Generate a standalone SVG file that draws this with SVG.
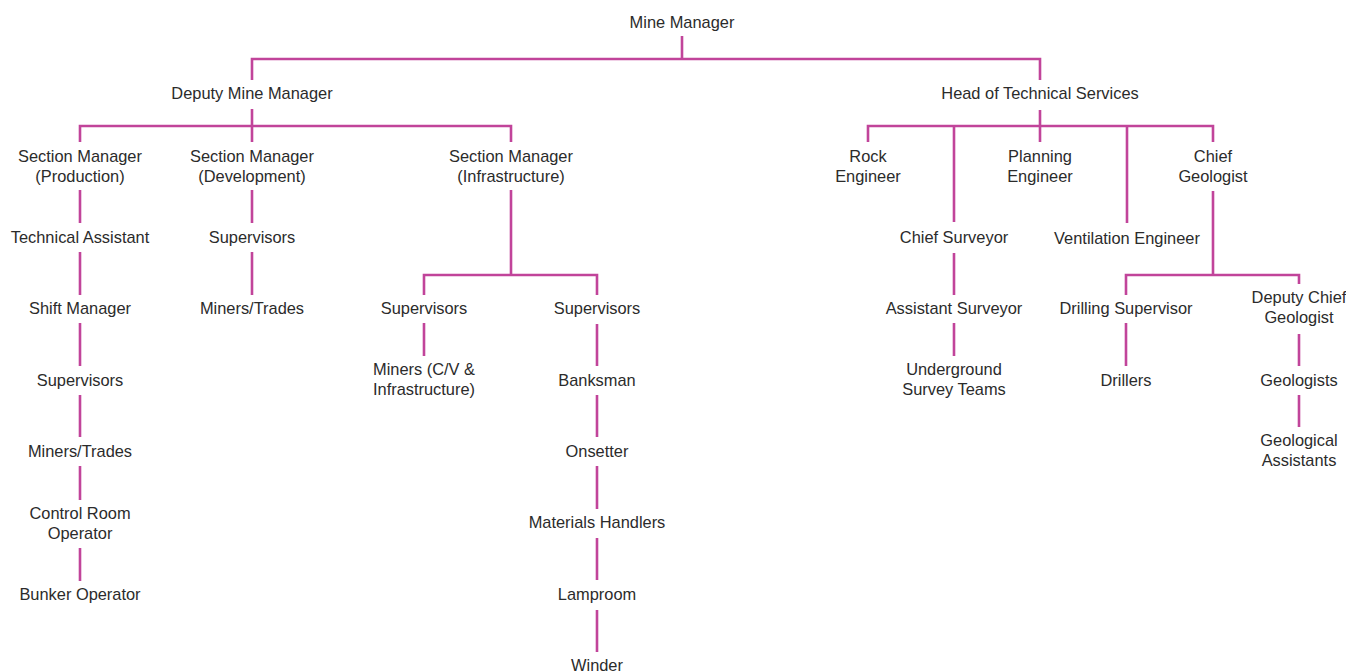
<svg xmlns="http://www.w3.org/2000/svg" width="1346" height="672" viewBox="0 0 1346 672">
<style>
text{font-family:"Liberation Sans",Arial,sans-serif;font-size:16.4px;fill:#2b2b2b;text-anchor:middle}
.c path{fill:none;stroke:#c1449a;stroke-width:2.6}
</style>
<rect width="1346" height="672" fill="#fff"/>
<g class="c" id="connectors">
<path d="M682 36V59M252 80V59H1040V80"/>
<path d="M252 109V126M80 142V126H511V142M252 126V142"/>
<path d="M80 190V223M80 252V295M80 323V366M80 395V437M80 466V500M80 548V581"/>
<path d="M252 190V223M252 252V295"/>
<path d="M511 190V275M424 295V275H597V295"/>
<path d="M424 323V356M597 324V366M597 395V437M597 466V509M597 538V580M597 610V652"/>
<path d="M1040 110V126M868 142V126H1213V142M1040 126V142M954 126V222M1127 126V223"/>
<path d="M954 253V295M954 323V356"/>
<path d="M1213 191V275M1126 295V275H1299V284"/>
<path d="M1126 323V366M1299 334V366M1299 395V427"/>
</g>
<g id="n-mine-manager"><text x="682" y="28">Mine Manager</text></g>
<g id="n-deputy"><text x="252" y="99">Deputy Mine Manager</text></g>
<g id="n-hts"><text x="1040" y="99">Head of Technical Services</text></g>
<g id="n-sm-prod"><text x="80" y="162">Section Manager</text><text x="80" y="182">(Production)</text></g>
<g id="n-sm-dev"><text x="252" y="162">Section Manager</text><text x="252" y="182">(Development)</text></g>
<g id="n-sm-inf"><text x="511" y="162">Section Manager</text><text x="511" y="182">(Infrastructure)</text></g>
<g id="n-tech-asst"><text x="80" y="243">Technical Assistant</text></g>
<g id="n-shift"><text x="80" y="314">Shift Manager</text></g>
<g id="n-sup-prod"><text x="80" y="386">Supervisors</text></g>
<g id="n-miners-prod"><text x="80" y="457">Miners/Trades</text></g>
<g id="n-control"><text x="80" y="519">Control Room</text><text x="80" y="539">Operator</text></g>
<g id="n-bunker"><text x="80" y="600">Bunker Operator</text></g>
<g id="n-sup-dev"><text x="252" y="243">Supervisors</text></g>
<g id="n-miners-dev"><text x="252" y="314">Miners/Trades</text></g>
<g id="n-sup-inf1"><text x="424" y="314">Supervisors</text></g>
<g id="n-miners-cv"><text x="424" y="375">Miners (C/V &amp;</text><text x="424" y="395">Infrastructure)</text></g>
<g id="n-sup-inf2"><text x="597" y="314">Supervisors</text></g>
<g id="n-banksman"><text x="597" y="386">Banksman</text></g>
<g id="n-onsetter"><text x="597" y="457">Onsetter</text></g>
<g id="n-materials"><text x="597" y="528">Materials Handlers</text></g>
<g id="n-lamproom"><text x="597" y="600">Lamproom</text></g>
<g id="n-winder"><text x="597" y="671">Winder</text></g>
<g id="n-rock"><text x="868" y="162">Rock</text><text x="868" y="182">Engineer</text></g>
<g id="n-planning"><text x="1040" y="162">Planning</text><text x="1040" y="182">Engineer</text></g>
<g id="n-chief-geo"><text x="1213" y="162">Chief</text><text x="1213" y="182">Geologist</text></g>
<g id="n-chief-surveyor"><text x="954" y="243">Chief Surveyor</text></g>
<g id="n-vent"><text x="1127" y="244">Ventilation Engineer</text></g>
<g id="n-asst-surveyor"><text x="954" y="314">Assistant Surveyor</text></g>
<g id="n-ug-survey"><text x="954" y="375">Underground</text><text x="954" y="395">Survey Teams</text></g>
<g id="n-drilling-sup"><text x="1126" y="314">Drilling Supervisor</text></g>
<g id="n-drillers"><text x="1126" y="386">Drillers</text></g>
<g id="n-deputy-geo"><text x="1299" y="303">Deputy Chief</text><text x="1299" y="323">Geologist</text></g>
<g id="n-geologists"><text x="1299" y="386">Geologists</text></g>
<g id="n-geo-asst"><text x="1299" y="446">Geological</text><text x="1299" y="466">Assistants</text></g>
</svg>
